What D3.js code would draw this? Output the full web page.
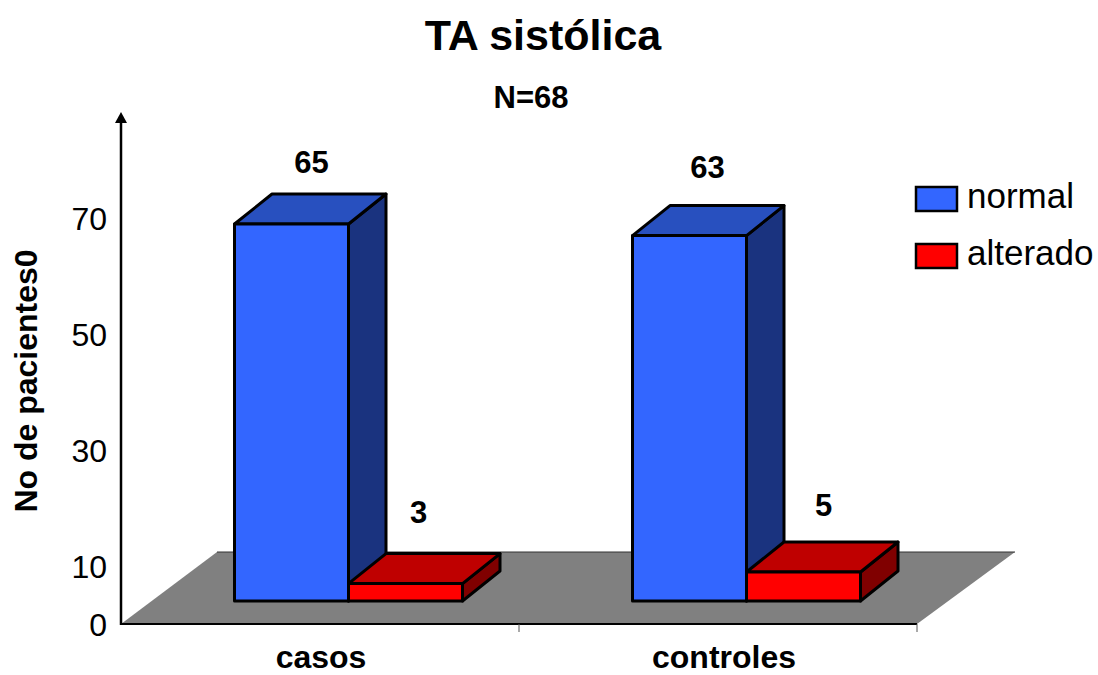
<!DOCTYPE html>
<html>
<head>
<meta charset="utf-8">
<script src="https://cdn.jsdelivr.net/npm/d3@7"></script>
<style>
html, body { margin: 0; padding: 0; background: #fff; }
svg { display: block; font-family: "Liberation Sans", Arial, sans-serif; }
</style>
</head>
<body>
<svg id="chart"></svg>
<script>
// Data
const categories = ["casos", "controles"];
const seriesNames = ["normal", "alterado"];
const normalValues = [65, 63];
const alteradoValues = [3, 5];
const yTickValues = [0, 10, 30, 50, 70];

const colors = {
    normal: { front: "#3366ff", top: "#2850bf", side: "#1a337f" },
    alterado: { front: "#ff0000", top: "#bf0000", side: "#800000" }
};

const width = 1098, height = 675;
const svg = d3.select("#chart").attr("width", width).attr("height", height);

// Scales
const x0 = d3.scaleBand().domain(categories).range([121, 917]);
const x1 = d3.scaleBand().domain(seriesNames).range([113.5, 341.5]);
const y = d3.scaleLinear().domain([0, 70]).range([624, 218]);

// Perspective offsets
const floorDx = 96, floorDy = 72;
const frontDy = 23;        // front of the bars sits above the axis line
const depthDx = 37.5, depthDy = 30;
const baseY = y(0) - frontDy;

// Floor
svg.append("path")
    .attr("d", d3.line()([
        [x0.range()[0], y(0)],
        [x0.range()[0] + floorDx, y(0) - floorDy],
        [x0.range()[1] + floorDx + 2, y(0) - floorDy],
        [x0.range()[1], y(0)]
    ]) + "Z")
    .attr("fill", "#808080");
svg.append("line")
    .attr("x1", x0.range()[0] + floorDx).attr("x2", x0.range()[1] + floorDx + 2)
    .attr("y1", y(0) - floorDy).attr("y2", y(0) - floorDy)
    .attr("stroke", "#333").attr("stroke-width", 1);

// Y axis, no tick marks
const yAxis = svg.append("g")
    .attr("transform", "translate(121,0)")
    .call(d3.axisLeft(y).tickValues(yTickValues).tickSize(0).tickPadding(14));
yAxis.select(".domain").remove();
yAxis.selectAll("text")
    .attr("font-size", 32).attr("font-family", "Liberation Sans").attr("fill", "#000")
    .attr("y", 1);

svg.append("line")
    .attr("x1", 121).attr("x2", 121).attr("y1", 122).attr("y2", 625)
    .attr("stroke", "#000").attr("stroke-width", 2.5);
svg.append("path")
    .attr("d", "M121,112L115,123L127,123Z")
    .attr("fill", "#000");

// X axis
const xAxis = svg.append("g")
    .attr("transform", `translate(0,${y(0)})`)
    .call(d3.axisBottom(x0).tickSize(0).tickPadding(21));
xAxis.select(".domain").remove();
xAxis.selectAll("text")
    .attr("font-size", 32).attr("font-weight", "bold")
    .attr("font-family", "Liberation Sans").attr("fill", "#000")
    .attr("dx", (d, i) => i === 0 ? 1 : 6);

svg.append("line")
    .attr("x1", 121).attr("x2", 917).attr("y1", y(0)).attr("y2", y(0))
    .attr("stroke", "#000").attr("stroke-width", 2);
svg.selectAll("line.tick-mark")
    .data([x0("controles"), x0.range()[1]])
    .enter().append("line")
    .attr("class", "tick-mark")
    .attr("x1", d => d).attr("x2", d => d)
    .attr("y1", y(0)).attr("y2", y(0) + 8)
    .attr("stroke", "#555").attr("stroke-width", 1);

// 3D bars
function drawBar(category, seriesName, value) {
    const c = colors[seriesName];
    const left = x0(category) + x1(seriesName);
    const right = left + x1.bandwidth();
    const topY = y(value) - frontDy;
    const g = svg.append("g")
        .attr("stroke", "#000").attr("stroke-width", 3).attr("stroke-linejoin", "round");
    g.append("path").attr("fill", c.side)
        .attr("d", d3.line()([[right, topY], [right + depthDx, topY - depthDy], [right + depthDx, baseY - depthDy], [right, baseY]]) + "Z");
    g.append("path").attr("fill", c.top)
        .attr("d", d3.line()([[left, topY], [left + depthDx, topY - depthDy], [right + depthDx, topY - depthDy], [right, topY]]) + "Z");
    g.append("rect").attr("fill", c.front)
        .attr("x", left).attr("y", topY)
        .attr("width", x1.bandwidth()).attr("height", baseY - topY);
}

// Value labels, placed by hand in the original so each gets its own nudge
const labelNudge = {
    normal: [[0, 7], [-2, 0]],
    alterado: [[-7, -3], [0, 2]]
};
function drawLabel(category, seriesName, value, i) {
    const left = x0(category) + x1(seriesName);
    const topY = y(value) - frontDy;
    svg.append("text")
        .attr("x", left + x1.bandwidth() / 2 + 20 + labelNudge[seriesName][i][0])
        .attr("y", topY - depthDy - 28 + labelNudge[seriesName][i][1])
        .attr("text-anchor", "middle")
        .attr("font-size", 31).attr("font-weight", "bold")
        .text(value);
}

categories.forEach((cat, i) => {
    drawBar(cat, "normal", normalValues[i]);
    drawBar(cat, "alterado", alteradoValues[i]);
    drawLabel(cat, "normal", normalValues[i], i);
    drawLabel(cat, "alterado", alteradoValues[i], i);
});

// Titles
svg.append("text").attr("x", 543).attr("y", 50).attr("text-anchor", "middle")
    .attr("font-size", 43).attr("font-weight", "bold").text("TA sistólica");
svg.append("text").attr("x", 531).attr("y", 108).attr("text-anchor", "middle")
    .attr("font-size", 31).attr("font-weight", "bold").text("N=68");
svg.append("text")
    .attr("transform", "translate(37,381) rotate(-90)")
    .attr("text-anchor", "middle")
    .attr("font-size", 32).attr("font-weight", "bold").text("No de pacientes0");

// Legend
const legend = svg.selectAll("g.legend-item")
    .data(seriesNames)
    .enter().append("g")
    .attr("class", "legend-item")
    .attr("transform", (d, i) => `translate(915,${186 + i * 57})`);
legend.append("rect")
    .attr("x", 1).attr("y", 1).attr("width", 41).attr("height", 24)
    .attr("fill", d => colors[d].front)
    .attr("stroke", "#000").attr("stroke-width", 2.5);
legend.append("text")
    .attr("x", 52).attr("y", 22)
    .attr("font-size", 35)
    .text(d => d);
</script>
</body>
</html>
